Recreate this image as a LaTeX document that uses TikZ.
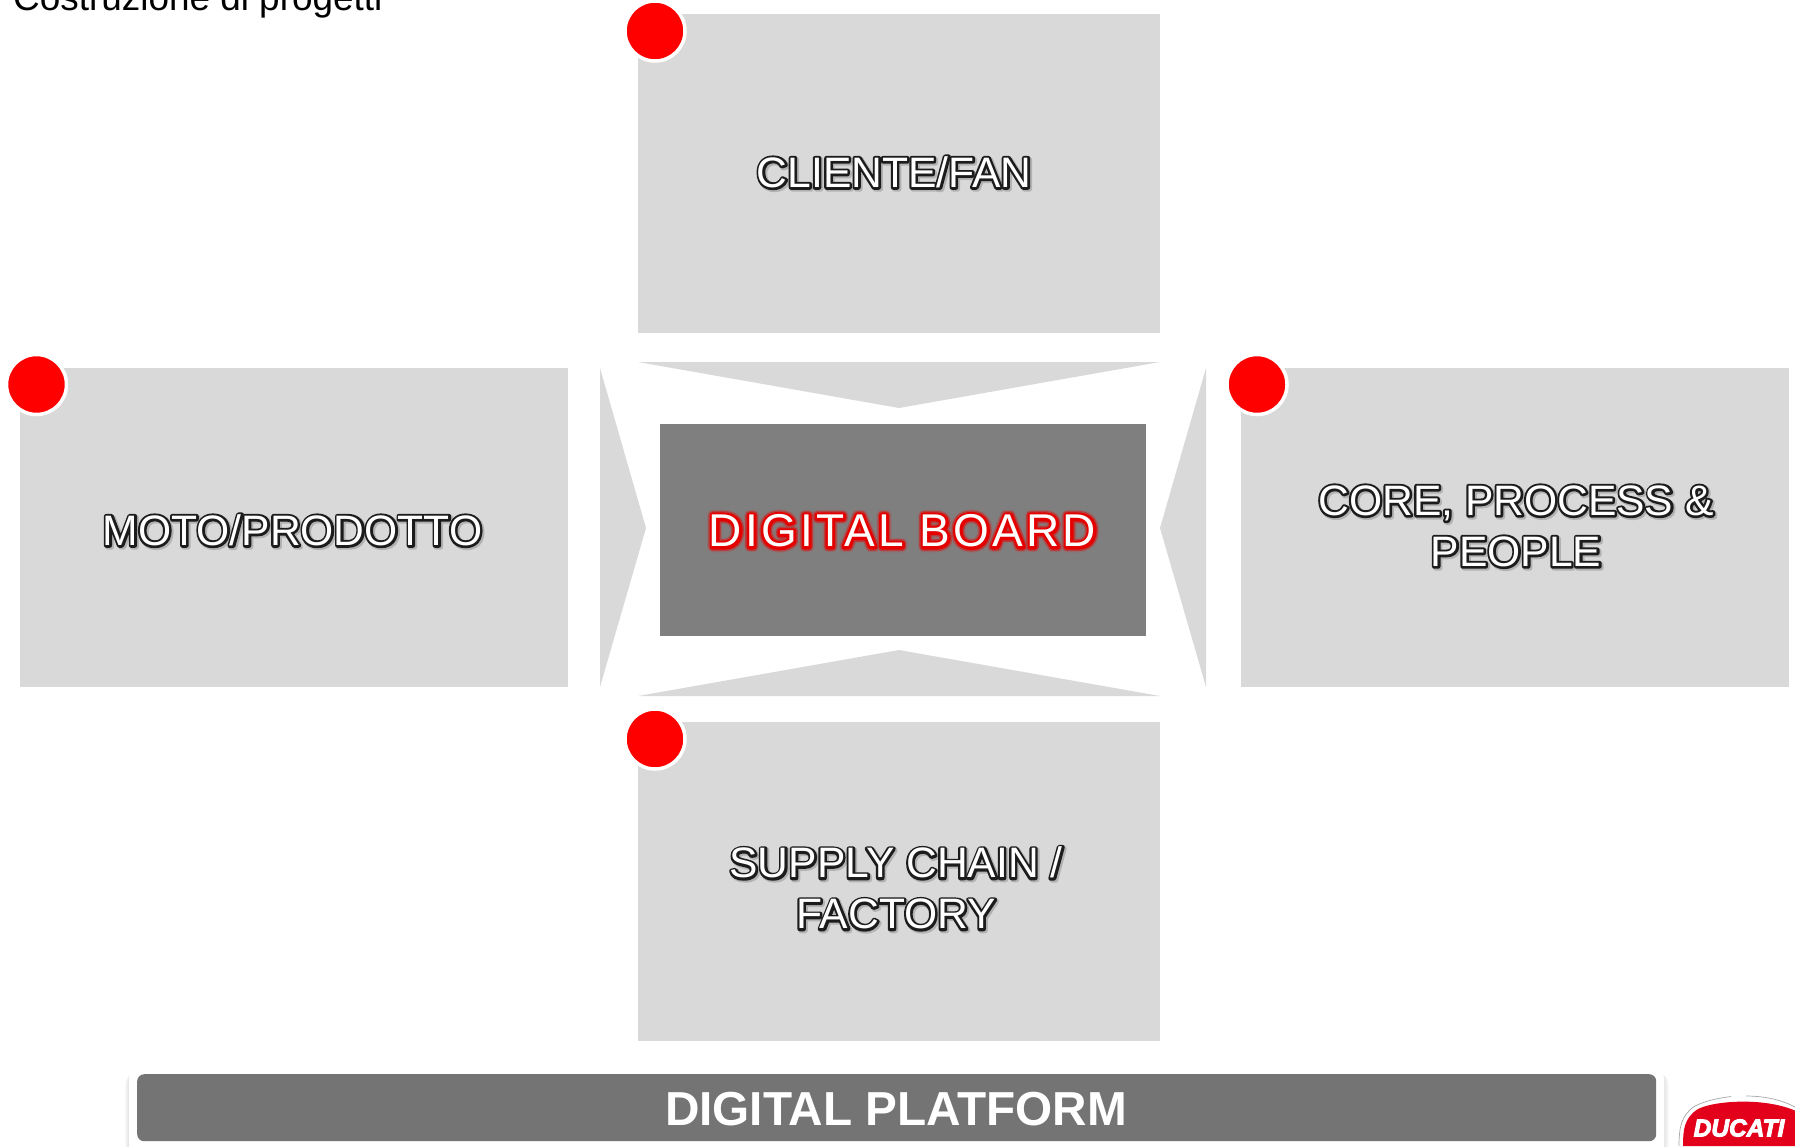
\documentclass[tikz,border=0pt]{standalone}
\usepackage{fontspec}
\setmainfont{Liberation Sans}
\newfontfamily\spacedfont[LetterSpace=7]{Liberation Sans}
\usetikzlibrary{calc}
\definecolor{boxgray}{HTML}{D9D9D9}
\definecolor{boardgray}{HTML}{7F7F7F}
\definecolor{platgray}{HTML}{747474}
\definecolor{ducatired}{HTML}{E2001A}
% one stroked underlay of a text: width, rgb, text
\newcommand{\strokelayer}[3]{\rlap{\special{pdf:code 2 Tr #1 w 1 j #2 RG #2 rg}#3\special{pdf:code 0 Tr 0 w 0 j 1 1 1 RG 1 1 1 rg}}}
\newcommand{\outlined}[1]{\leavevmode\rlap{\kern1.5pt\raisebox{-1.5pt}{\strokelayer{5.5}{0.70 0.70 0.70}{#1}}}\strokelayer{4.6}{0.11 0.11 0.11}{#1}#1}
\newcommand{\redlined}[1]{\leavevmode\strokelayer{11}{0.56 0.44 0.44}{#1}\strokelayer{8.5}{0.70 0.25 0.25}{#1}\strokelayer{5.5}{0.90 0 0}{#1}#1}
\newcommand{\boldened}[1]{\special{pdf:code 2 Tr 0.9 w 1 1 1 RG}#1\special{pdf:code 0 Tr 0 w}}
\tikzset{
  x=1pt,y=-1pt,
  panel/.style={fill=boxgray,draw=none,inner sep=0pt,outer sep=0pt,anchor=north west},
  marker/.style={circle,fill=red,draw=white,line width=3.5pt,minimum size=60pt,inner sep=0pt},
  wedge/.style={fill=boxgray,draw=none},
  paneltext/.style={align=center,text=white,inner sep=0pt,font=\fontsize{42.6}{51}\selectfont},
}
\begin{document}
\begin{tikzpicture}
\useasboundingbox (0,0) rectangle (1795,1146);
% title
\begin{scope}
\clip (0,0) rectangle (1795,1146);
\node[anchor=base west,inner sep=0pt,text=black,font=\fontsize{36.9}{42}\selectfont] (title) at (13,10) {Costruzione di progetti};
\end{scope}
% panels
\node[panel,minimum width=522pt,minimum height=319pt] (top) at (638,14) {};
\node[panel,minimum width=548pt,minimum height=319pt] (left) at (20,368) {};
\node[panel,minimum width=548pt,minimum height=319pt] (right) at (1241,368) {};
\node[panel,minimum width=522pt,minimum height=319pt] (bottom) at (638,722) {};
\node[panel,fill=boardgray,minimum width=486pt,minimum height=212pt] (board) at (660,424) {};
% wedges
\fill[wedge] (638,362) -- (1160,362) -- (899,408) -- cycle;
\fill[wedge] (638,696) -- (1160,696) -- (899,650) -- cycle;
\fill[wedge] (600,368) -- (646,528) -- (600,687) -- cycle;
\fill[wedge] (1206,368) -- (1160,528) -- (1206,687) -- cycle;
% markers
\node[marker] (mtop) at (655,31) {};
\node[marker] (mleft) at (36.5,384.5) {};
\node[marker] (mright) at (1257,384.5) {};
\node[marker] (mbottom) at (655,739) {};
% labels
\node[paneltext] (ltop) at (894,173) {\outlined{CLIENTE/FAN}};
\node[paneltext] (lleft) at (292.5,531) {\outlined{MOTO/PRODOTTO}};
\node[paneltext] (lright) at (1516,527) {\outlined{CORE, PROCESS \&}\\\outlined{PEOPLE}};
\node[paneltext] (lbottom) at (896,889) {\outlined{SUPPLY CHAIN /}\\\outlined{FACTORY}};
\node[inner sep=0pt,text=white,font=\spacedfont\fontsize{46}{54}\selectfont] (lboard) at (902.5,531) {\redlined{DIGITAL BOARD}};
% platform
\begin{scope}
\clip (0,0) rectangle (1795,1146);
\foreach \g in {5,4,3,2,1}{
  \fill[black,opacity=0.02,rounded corners=12pt] ({129-\g*0.8},{1068+\g}) rectangle ({1664+\g},1160);
}
\fill[white,rounded corners=12pt] (129,1066) rectangle (1664,1160);
\node[anchor=north west,inner sep=0pt,fill=platgray,rounded corners=7pt,minimum width=1519pt,minimum height=67pt] (platform) at (137,1074) {};
\node[inner sep=0pt,text=white,font=\bfseries\fontsize{47.7}{56}\selectfont] (lplatform) at (896,1109) {DIGITAL PLATFORM};
% logo
\fill[white] (1677,1146) .. controls (1677,1130) and (1679,1116) .. (1694,1107) .. controls (1715,1097) and (1770,1094) .. (1800,1108) -- (1800,1146) -- cycle;
\draw[black!35,line width=0.7pt] (1679,1146) .. controls (1679,1128) and (1681,1115) .. (1695,1106) .. controls (1707,1100) and (1720,1098) .. (1731,1096.5);
\draw[black!35,line width=0.7pt] (1746,1096) .. controls (1765,1096) and (1782,1100) .. (1795,1107);
\fill[ducatired] (1683,1146) .. controls (1683,1130) and (1684,1118) .. (1698,1109) .. controls (1716,1100) and (1770,1097) .. (1800,1113) -- (1800,1146) -- cycle;
\node[inner sep=0pt,text=white,font=\bfseries\itshape\fontsize{24.5}{28}\selectfont] (logotext) at (1739,1128) {\boldened{DUCATI}};
\end{scope}
\end{tikzpicture}
\end{document}
